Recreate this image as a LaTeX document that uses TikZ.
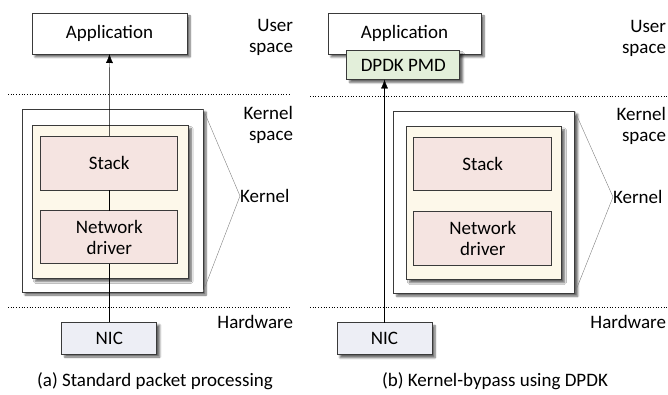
\documentclass[tikz,border=0pt]{standalone}
\usepackage{fontspec}
\setmainfont{Carlito}
\usetikzlibrary{arrows.meta,shadows.blur}

\definecolor{kernfill}{HTML}{FDF8EA}
\definecolor{stackfill}{HTML}{F5E4E1}
\definecolor{pmdfill}{HTML}{E3EFDA}
\definecolor{nicfill}{HTML}{EDEEF5}
\definecolor{boxline}{HTML}{3A3A3A}

\begin{document}
\begin{tikzpicture}[x=1pt,y=-1pt,
    every node/.style={font=\fontsize{19}{21}\selectfont,inner sep=0pt,outer sep=0pt},
    box/.style={rectangle,draw=boxline,line width=0.9pt,fill=white,
      blur shadow={shadow xshift=3pt,shadow yshift=-3pt,shadow blur steps=6,shadow opacity=60}},
    plain/.style={rectangle,draw=boxline,line width=0.9pt},
    lbl/.style={anchor=east,align=right},
    sep/.style={dotted,line width=0.7pt},
    zoomline/.style={draw=gray,line width=0.4pt},
    flow/.style={-{Latex[length=9pt,width=7pt]}}]

  \useasboundingbox (0,0) rectangle (668,395);

  % layer separators
  \draw[sep] (8,94) -- (290,94);
  \draw[sep] (8,307) -- (290,307);
  \draw[sep] (310,96.5) -- (668,96.5);
  \draw[sep] (310,307) -- (668,307);

  % (a) standard path
  \node[box,minimum width=181pt,minimum height=183pt] (kern1) at (112.5,200.5) {};
  \node[box,fill=kernfill,minimum width=156pt,minimum height=153pt] (inner1) at (110.3,202) {};
  \node[plain,fill=stackfill,minimum width=137pt,minimum height=54pt] (stack1) at (109.3,163) {Stack};
  \node[plain,fill=stackfill,minimum width=137pt,minimum height=53pt,align=center] (drv1) at (109.3,237.3) {Network\\driver};
  \node[box,minimum width=155pt,minimum height=41pt] (app1) at (109.5,33.5) {Application};
  \node[box,fill=nicfill,minimum width=95pt,minimum height=32pt] (nic1) at (109.3,338) {NIC};

  \draw (nic1) -- (drv1);
  \draw (drv1) -- (stack1);
  \draw[flow] (stack1) -- (app1);

  \node[lbl] (user1) at (293,37) {User\\space};
  \node[lbl] (kspace1) at (293,125) {Kernel\\space};
  \node[anchor=west] (klab1) at (240,196) {Kernel};
  \node[lbl] (hw1) at (293,322) {Hardware};
  \draw[zoomline] (kern1.north east) -- (klab1.west) -- (kern1.south east);

  \node (capa) at (155,381) {(a) Standard packet processing};

  % (b) kernel bypass
  \node[box,minimum width=181pt,minimum height=182pt] (kern2) at (484.3,202.2) {};
  \node[box,fill=kernfill,minimum width=155pt,minimum height=153pt] (inner2) at (484,203.3) {};
  \node[plain,fill=stackfill,minimum width=138pt,minimum height=53pt] (stack2) at (482.8,164.3) {Stack};
  \node[plain,fill=stackfill,minimum width=138pt,minimum height=54pt,align=center] (drv2) at (482.8,238.7) {Network\\driver};
  \node[box,minimum width=153pt,minimum height=41pt] (app2) at (404.5,33.5) {Application};
  \node[box,fill=pmdfill,minimum width=113pt,minimum height=29pt] (pmd) at (403.3,65) {DPDK PMD};
  \node[box,fill=nicfill,minimum width=95pt,minimum height=32pt] (nic2) at (384.5,338.8) {NIC};

  \draw[flow] (nic2.north) -- (nic2.north |- pmd.south);

  \node[lbl] (user2) at (666,38) {User\\space};
  \node[lbl] (kspace2) at (666,126) {Kernel\\space};
  \node[anchor=west] (klab2) at (613,197) {Kernel};
  \node[lbl] (hw2) at (666,322) {Hardware};
  \draw[zoomline] (kern2.north east) -- (klab2.west) -- (kern2.south east);

  \node (capb) at (495,381) {(b) Kernel-bypass using DPDK};

\end{tikzpicture}
\end{document}
